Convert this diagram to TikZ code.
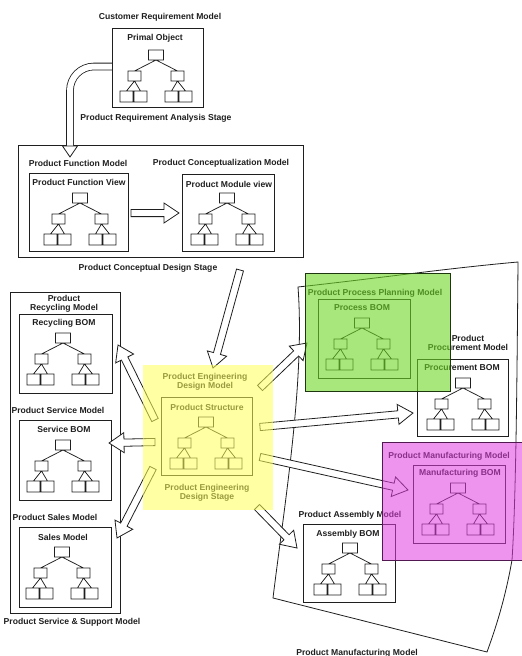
\documentclass[tikz,border=0pt]{standalone}
\usepackage{fontspec}
\setmainfont{Liberation Sans}
\usetikzlibrary{calc}

\definecolor{inkc}{gray}{0.12}
\definecolor{yelfill}{RGB}{255,255,90}
\definecolor{grnfill}{RGB}{110,215,35}
\definecolor{grnedge}{RGB}{30,55,15}
\definecolor{magfill}{RGB}{225,60,225}
\definecolor{magedge}{RGB}{80,25,80}

\tikzset{
  ink/.style={draw=inkc, line width=0.9pt},
  lbl/.style={font=\bfseries\fontsize{8.6}{9.4}\selectfont, text=inkc, inner sep=0pt, align=center},
  bom/.style={ink, rectangle, inner sep=0pt, anchor=north west},
  blk/.style={draw=inkc, line width=0.8pt, fill=white, line join=miter},
  pics/tree/.style={code={
    \draw[draw=inkc, line width=0.75pt]
      (-7.5,0) rectangle (7.5,10)
      (-28,21) rectangle (-15,31) (15,21) rectangle (28,31)
      (-36,41) rectangle (-23,52) (-22,41) rectangle (-9,52)
      (9,41) rectangle (22,52) (23,41) rectangle (36,52)
      (0,10) -- (-21.5,21) (0,10) -- (21.5,21)
      (-21.5,31) -- (-29.5,41) (-21.5,31) -- (-15.5,41)
      (21.5,31) -- (15.5,41) (21.5,31) -- (29.5,41);
  }},
}

% hollow block arrow from #1 (tail) to #2 (tip)
\newcommand\hollowarrow[2]{%
  \coordinate (ha-base) at ($(#2)!15pt!(#1)$);
  \draw[blk] ($(#1)!3.6pt!90:(#2)$) -- ($(ha-base)!3.6pt!90:(#2)$)
    -- ($(ha-base)!10pt!90:(#2)$) -- (#2) -- ($(ha-base)!10pt!-90:(#2)$)
    -- ($(ha-base)!3.6pt!-90:(#2)$) -- ($(#1)!3.6pt!-90:(#2)$) -- cycle;
}

\begin{document}
\begin{tikzpicture}[x=1pt,y=-1pt]
\useasboundingbox (0,0) rectangle (522,656);
\fill[white] (0,0) rectangle (522,656);

% ---------- requirement analysis stage ----------
\node[lbl] (crm) at (160,17) {Customer Requirement Model};
\node[lbl] (pras) at (156,118) {Product Requirement Analysis Stage};

% ---------- conceptual design stage ----------
\node[bom, minimum width=285pt, minimum height=112pt] (pcds) at (18,145) {};
\node[lbl] (pcdslbl) at (148,268) {Product Conceptual Design Stage};
\node[lbl] (pfm) at (78,163) {Product Function Model};
\node[lbl] (pcm) at (221,163) {Product Conceptualization Model};

% curved arrow from the primal object down into the conceptual stage
\coordinate (ca-start) at (112.5,66.5);
\coordinate (ca-end) at (70,146);
\coordinate (ca-tip) at (70,157);
\draw[inkc, line width=7.6pt] (ca-start) -- (94,66.5) arc[start angle=90, end angle=180, radius=24pt] -- (ca-end);
\draw[white, line width=6pt] (ca-start) -- (94,66.5) arc[start angle=90, end angle=180, radius=24pt] -- (ca-end);
\draw[blk] (62.5,146) -- (77.5,146) -- (ca-tip) -- cycle;

% primal object
\node[bom, minimum width=91pt, minimum height=79pt] (primal) at (112,28) {};
\node[lbl] (primalt) at (155,38) {Primal Object};
\pic at (156,50) {tree};

% function view and module view
\node[bom, minimum width=99pt, minimum height=78pt] (fview) at (29,173) {};
\node[lbl] (fviewt) at (79,182) {Product Function View};
\pic at (80,193) {tree};
\node[bom, minimum width=92pt, minimum height=77pt] (mview) at (182,174) {};
\node[lbl] (mviewt) at (229,184) {Product Module view};
\pic at (227,193) {tree};
\coordinate (fm-tail) at (131,213);
\coordinate (fm-tip) at (179,213);
\hollowarrow{fm-tail}{fm-tip}

% arrow down to engineering design
\coordinate (d-tail) at (240,270);
\coordinate (d-tip) at (213,368);
\hollowarrow{d-tail}{d-tip}

% ---------- engineering design ----------
\node[lbl] (pedm) at (205,382) {Product Engineering\\Design Model};
\node[bom, minimum width=91pt, minimum height=78pt] (pstruct) at (161,397) {};
\node[lbl] (pstructt) at (207,407) {Product Structure};
\pic at (206,417) {tree};
\node[lbl] (peds) at (207,493) {Product Engineering\\Design Stage};

% ---------- service & support column ----------
\node[bom, minimum width=110pt, minimum height=321pt] (pssm) at (10,292) {};
\node[lbl] (prm) at (64,303.5) {Product\\Recycling Model};
\node[bom, minimum width=93pt, minimum height=79pt] (recy) at (19,314) {};
\node[lbl] (recyt) at (64,323) {Recycling BOM};
\pic at (63,333) {tree};
\node[lbl] (psm) at (58,410) {Product Service Model};
\node[bom, minimum width=92pt, minimum height=80pt] (serv) at (19,420) {};
\node[lbl] (servt) at (64,429) {Service BOM};
\pic at (63,440) {tree};
\node[lbl] (psalm) at (55,517) {Product Sales Model};
\node[bom, minimum width=92pt, minimum height=80pt] (sales) at (19,527) {};
\node[lbl] (salest) at (63,537) {Sales Model};
\pic at (62,547) {tree};
\node[lbl] (psslbl) at (72,622) {Product Service \& Support Model};

% ---------- manufacturing side ----------
\draw[draw=inkc, line width=0.8pt] (298,287) .. controls (380,278) and (450,268) .. (518,262)
  .. controls (517,380) and (516,500) .. (512,560)
  .. controls (505,600) and (495,630) .. (487,652)
  -- (273,598) .. controls (285,500) and (305,380) .. (298,287) -- cycle;
\node[lbl] (pmmlbl) at (357,653) {Product Manufacturing Model};

\node[lbl] (pppm) at (375,293) {Product Process Planning Model};
\node[bom, minimum width=92pt, minimum height=79pt] (proc) at (318,299) {};
\node[lbl] (proct) at (362,308) {Process BOM};
\pic at (362,318) {tree};

\node[lbl] (pprm) at (468,343) {Product\\Procurement Model};
\node[bom, minimum width=91pt, minimum height=77pt] (procu) at (417,359) {};
\node[lbl] (procut) at (462,368) {Procurement BOM};
\pic at (463,378) {tree};

\node[lbl] (pmfm) at (449,456) {Product Manufacturing Model};
\node[bom, minimum width=92pt, minimum height=78pt] (manu) at (413,465) {};
\node[lbl] (manut) at (460,473) {Manufacturing BOM};
\pic at (458,483) {tree};

\node[lbl] (pam) at (350,515) {Product Assembly Model};
\node[bom, minimum width=92pt, minimum height=78pt] (asm) at (303,524) {};
\node[lbl] (asmt) at (348,534) {Assembly BOM};
\pic at (350,543) {tree};

% ---------- arrows out of the engineering design ----------
\coordinate (r1-tail) at (155,420); \coordinate (r1-tip) at (118,345);
\coordinate (r2-tail) at (155,442); \coordinate (r2-tip) at (109,443);
\coordinate (r3-tail) at (153,468); \coordinate (r3-tip) at (117,538);
\coordinate (m1-tail) at (260,388); \coordinate (m1-tip) at (307,343);
\coordinate (m2-tail) at (260,427); \coordinate (m2-tip) at (413,413);
\coordinate (m3-tail) at (260,457); \coordinate (m3-tip) at (408,490);
\coordinate (m4-tail) at (257,507); \coordinate (m4-tip) at (297,548);
\hollowarrow{r1-tail}{r1-tip}
\hollowarrow{r2-tail}{r2-tip}
\hollowarrow{r3-tail}{r3-tip}
\hollowarrow{m1-tail}{m1-tip}
\hollowarrow{m2-tail}{m2-tip}
\hollowarrow{m3-tail}{m3-tip}
\hollowarrow{m4-tail}{m4-tip}

% ---------- coloured highlight panels ----------
\node[fill=yelfill, fill opacity=0.55, minimum width=130pt, minimum height=145pt, inner sep=0pt, anchor=north west] (yel) at (143,365) {};
\node[draw=grnedge, line width=1pt, fill=grnfill, fill opacity=0.6, minimum width=145pt, minimum height=118pt, inner sep=0pt, anchor=north west] (grn) at (305,273) {};
\node[draw=magedge, line width=1pt, fill=magfill, fill opacity=0.55, minimum width=140pt, minimum height=118pt, inner sep=0pt, anchor=north west] (mag) at (382,442) {};
\end{tikzpicture}
\end{document}
